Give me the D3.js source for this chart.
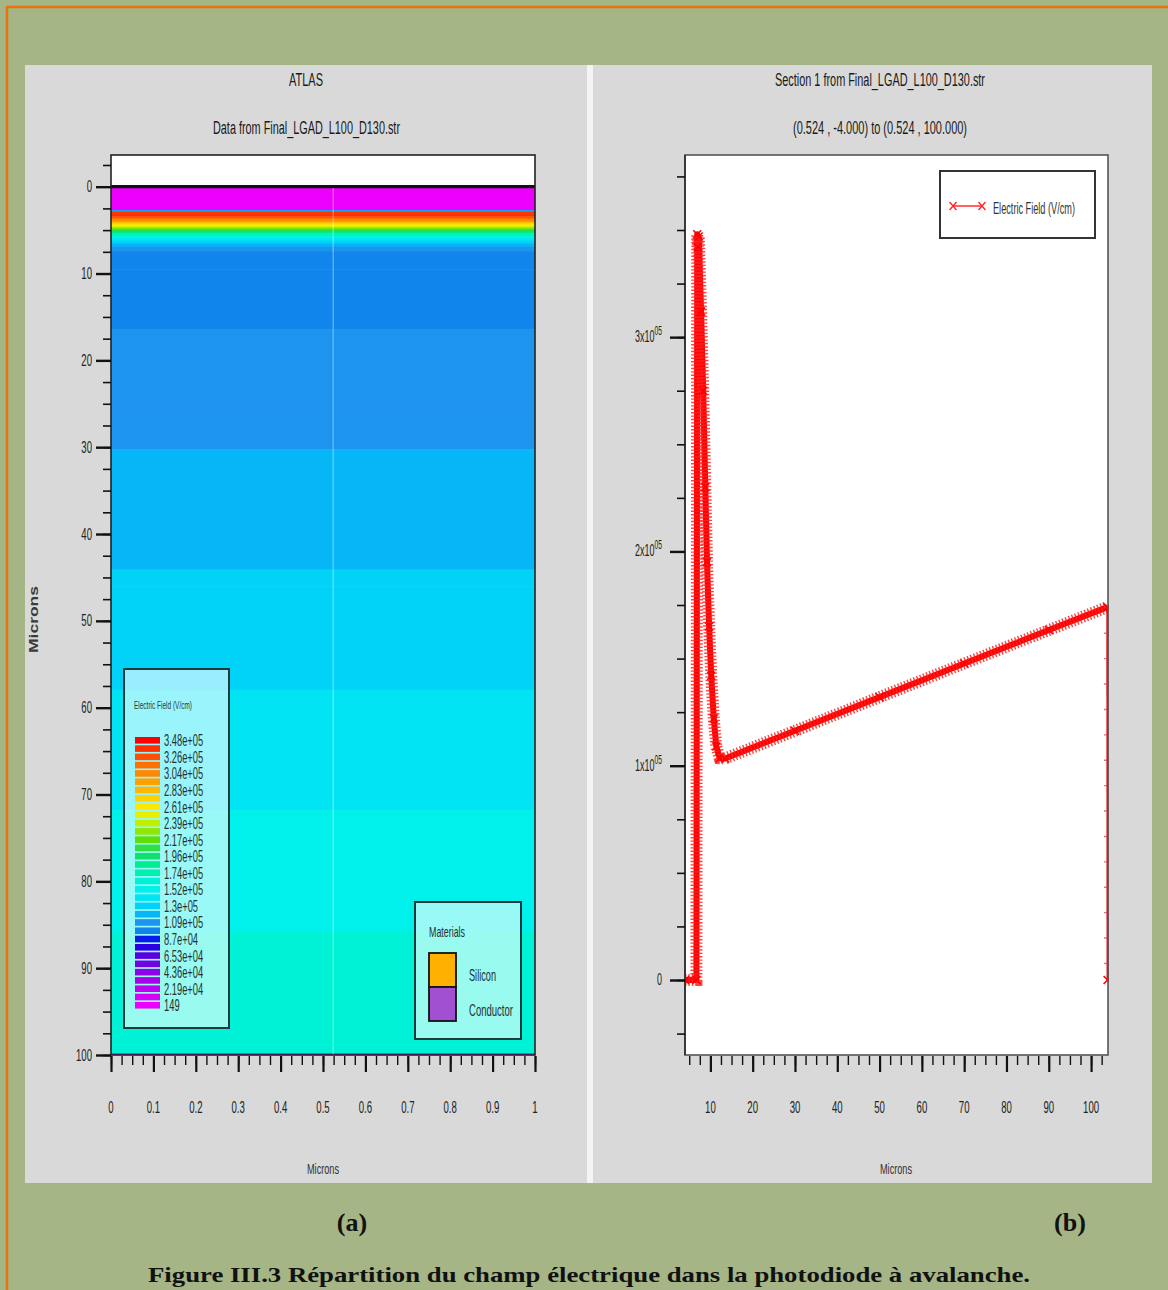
<!DOCTYPE html>
<html>
<head>
<meta charset="utf-8">
<script src="https://cdn.jsdelivr.net/npm/d3@7"></script>
<style>
  html, body { margin: 0; padding: 0; background: #a5b585; }
  svg { display: block; }
</style>
</head>
<body>
<svg id="fig" width="1168" height="1290"></svg>
<script>
// ---------------------------------------------------------------
// Electric field along the cutline x = 0.524 µm, from y = -4 to 100 µm.
// Distance is measured along the cutline (so depth = distance - 4).
// ---------------------------------------------------------------
const cutStartY = -4;
const sectionDistance = [4.0, 6.7, 6.9, 7.05, 7.25, 7.8, 8.3, 8.8, 9.2, 9.7, 10.2, 10.8, 11.4, 12.2, 13.5, 30, 50, 70, 90, 103.85, 103.9];
const electricField   = [0, 0, 348000, 342000, 347000, 312000, 275000, 230000, 195000, 165000, 142000, 122000, 109000, 103500, 103400, 116300, 132000, 147700, 163300, 174000, 0];

// Contour levels of the field map (V/cm), lowest first
const contourLevels = [149, 11011, 21873, 32735, 43597, 54459, 65321, 76183, 87045, 97907,
  108769, 119631, 130493, 141355, 152217, 163079, 173941, 184803, 195665, 206527,
  217389, 228251, 239113, 249975, 260837, 271699, 282561, 293423, 304285, 315147,
  326009, 336871, 347733];
const levelColors = ['#ee00ff', '#d800f8', '#c000f0', '#a800ec', '#9000e8', '#7400e4', '#5800e0', '#2c00e0',
  '#0a1cec', '#1086ec', '#1c94f0', '#06b6f6', '#00d2f8', '#00e4f4', '#00f0ec', '#00f2d6',
  '#00f0b0', '#00ec90', '#10e070', '#30e040', '#60e000', '#90e800', '#c0f000', '#e8f000',
  '#ffe800', '#ffd000', '#ffb800', '#ffa000', '#ff8800', '#ff7000', '#ff5000', '#ff3000', '#ff0000'];
// Legend text for every second level, lowest first
const legendLabels = ['149', '2.19e+04', '4.36e+04', '6.53e+04', '8.7e+04', '1.09e+05', '1.3e+05', '1.52e+05',
  '1.74e+05', '1.96e+05', '2.17e+05', '2.39e+05', '2.61e+05', '2.83e+05', '3.04e+05', '3.26e+05', '3.48e+05'];

const materialNames  = ['Silicon', 'Conductor'];
const materialColors = ['#ffb000', '#a050d0'];

// Axis ticks
const mapXTicks  = [0, 0.1, 0.2, 0.3, 0.4, 0.5, 0.6, 0.7, 0.8, 0.9, 1];
const mapXLabels = ['0', '0.1', '0.2', '0.3', '0.4', '0.5', '0.6', '0.7', '0.8', '0.9', '1'];
const mapYTicks  = [0, 10, 20, 30, 40, 50, 60, 70, 80, 90, 100];
const cutXTicks  = [10, 20, 30, 40, 50, 60, 70, 80, 90, 100];
const cutYTicks  = [0, 100000, 200000, 300000];
const cutYMant   = ['0', '1x10', '2x10', '3x10'];
const cutYExp    = ['', '05', '05', '05'];

const SANS = "'Liberation Sans', Arial, Helvetica, sans-serif";
const SERIF = "'Liberation Serif', 'Times New Roman', Times, serif";
const svg = d3.select('#fig');

// ---------- helpers ----------
function ntext(parent, x, y, str, size, anchor, sx, fill) {
  return parent.append('text')
    .attr('transform', `translate(${x},${y}) scale(${sx},1)`)
    .attr('text-anchor', anchor).attr('font-size', size)
    .attr('font-family', SANS).attr('fill', fill).text(str);
}
function fitText(parent, x, y, str, size, len, fill, weight) {
  return parent.append('text').attr('x', x).attr('y', y)
    .attr('font-size', size).attr('font-family', SANS)
    .attr('textLength', len).attr('lengthAdjust', 'spacingAndGlyphs')
    .attr('font-weight', weight || 'normal')
    .attr('fill', fill).text(str);
}
function ticks(parent, axis, tr) {
  const g = parent.append('g').attr('transform', tr).call(axis);
  g.select('.domain').remove();
  return g;
}

// ---------- page background ----------
svg.append('rect').attr('width', 1168).attr('height', 1290).attr('fill', '#a5b585');
svg.append('path').attr('d', 'M7,1290V7H1168').attr('fill', 'none')
  .attr('stroke', '#e8740c').attr('stroke-width', 2.5);

// panels
svg.append('rect').attr('x', 25).attr('y', 65).attr('width', 562).attr('height', 1118).attr('fill', '#d9d9d9');
svg.append('rect').attr('x', 587).attr('y', 65).attr('width', 6).attr('height', 1118).attr('fill', '#f4f4f4');
svg.append('rect').attr('x', 593).attr('y', 65).attr('width', 559).attr('height', 1118).attr('fill', '#d9d9d9');

// =============== (a) field map ===============
const xMap = d3.scaleLinear().domain([0, 1]).range([111, 535]);
const yMap = d3.scaleLinear().domain([-3.65, 100]).range([155, 1055]);
const colorOf = d3.scaleThreshold().domain(contourLevels.slice(1)).range(levelColors);

fitText(svg, 289, 86, 'ATLAS', 18, 34, '#1a1a1a');
fitText(svg, 213, 134, 'Data from Final_LGAD_L100_D130.str', 18, 187, '#1a1a1a');

svg.append('rect').attr('x', 111).attr('y', 155).attr('width', 424).attr('height', 900).attr('fill', '#ffffff');

// split the profile into constant-colour bands at each contour level
function contourBands(dist, field, levels) {
  const out = [];
  for (let i = 0; i < dist.length - 1; i++) {
    const d0 = dist[i], d1 = dist[i + 1], e0 = field[i], e1 = field[i + 1];
    if (d1 <= d0) continue;
    const cuts = [d0, d1];
    levels.forEach(v => { if ((v - e0) * (v - e1) < 0) cuts.push(d0 + (v - e0) / (e1 - e0) * (d1 - d0)); });
    cuts.sort((a, b) => a - b);
    for (let j = 0; j < cuts.length - 1; j++) {
      const a = cuts[j], b = cuts[j + 1];
      if (b <= a) continue;
      const m = (a + b) / 2;
      out.push({ from: a, to: b, value: e0 + (m - d0) / (d1 - d0) * (e1 - e0) });
    }
  }
  return out;
}
const bands = contourBands(sectionDistance, electricField, contourLevels.slice(1));
svg.append('g').selectAll('rect').data(bands).join('rect')
  .attr('x', xMap(0)).attr('width', xMap(1) - xMap(0))
  .attr('y', d => yMap(d.from + cutStartY))
  .attr('height', d => Math.max(0, yMap(d.to + cutStartY) - yMap(d.from + cutStartY)) + 0.5)
  .attr('fill', d => colorOf(d.value));

// cutline and the surface contact
svg.append('line').attr('x1', xMap(0.524)).attr('x2', xMap(0.524)).attr('y1', 155).attr('y2', 1055)
  .attr('stroke', '#ffffff').attr('stroke-opacity', 0.4).attr('stroke-width', 1.2);
svg.append('line').attr('x1', xMap(0)).attr('x2', xMap(1)).attr('y1', yMap(0)).attr('y2', yMap(0))
  .attr('stroke', '#111').attr('stroke-width', 3.2);

// colour legend
const lg = svg.append('g');
lg.append('rect').attr('x', 124).attr('y', 669).attr('width', 105).attr('height', 359)
  .attr('fill', '#ffffff').attr('fill-opacity', 0.6).attr('stroke', '#1c3a3a').attr('stroke-width', 2);
fitText(lg, 134, 709, 'Electric Field (V/cm)', 10, 58, '#2a3a3a');
const barPitch = 8.28, barTop = 737;
lg.selectAll('rect.bar').data(levelColors).join('rect').attr('class', 'bar')
  .attr('x', 135).attr('width', 25)
  .attr('y', (c, k) => barTop + (contourLevels.length - 1 - k) * barPitch)
  .attr('height', 6.6).attr('fill', c => c);
legendLabels.forEach((s, j) => {
  const k = j * 2;
  const cy = barTop + (contourLevels.length - 1 - k) * barPitch + 3.3;
  ntext(lg, 164, cy + 6, s, 17, 'start', 0.55, '#243232');
});

// materials legend
const mg = svg.append('g');
mg.append('rect').attr('x', 415).attr('y', 902).attr('width', 106).attr('height', 137)
  .attr('fill', '#ffffff').attr('fill-opacity', 0.6).attr('stroke', '#1c3a3a').attr('stroke-width', 2);
fitText(mg, 429, 937, 'Materials', 15, 36, '#243232');
materialNames.forEach((n, i) => {
  mg.append('rect').attr('x', 429).attr('y', 953 + i * 34).attr('width', 27).attr('height', 34)
    .attr('fill', materialColors[i]).attr('stroke', '#111').attr('stroke-width', 1.8);
  fitText(mg, 469, 981 + i * 35, n, 17, n === 'Silicon' ? 27 : 44, '#243232');
});

// frame and axes
svg.append('rect').attr('x', 111).attr('y', 155).attr('width', 424).attr('height', 900)
  .attr('fill', 'none').attr('stroke', '#222').attr('stroke-width', 1.6);

const tickStyle = g => g.selectAll('line').attr('stroke', '#111');
tickStyle(ticks(svg, d3.axisLeft(yMap).tickValues(d3.range(-2.5, 100.01, 2.5)).tickSize(8).tickFormat(''), 'translate(111,0)')
  .attr('stroke-width', 1.6));
tickStyle(ticks(svg, d3.axisLeft(yMap).tickValues(mapYTicks).tickSize(15).tickFormat(''), 'translate(111,0)')
  .attr('stroke-width', 2.4));
tickStyle(ticks(svg, d3.axisBottom(xMap).tickValues(d3.range(0, 1.0001, 0.025)).tickSize(9).tickFormat(''), 'translate(0,1056)')
  .attr('stroke-width', 1.4));
tickStyle(ticks(svg, d3.axisBottom(xMap).tickValues(mapXTicks).tickSize(16).tickFormat(''), 'translate(0,1056)')
  .attr('stroke-width', 2.2));
svg.selectAll('.tick line').attr('stroke-linecap', 'butt');

mapYTicks.forEach(v => ntext(svg, 92, yMap(v) + 5.5, String(v), 16, 'end', 0.6, '#222'));
mapXTicks.forEach((v, i) => ntext(svg, xMap(v), 1113, mapXLabels[i], 16, 'middle', 0.6, '#222'));
fitText(svg, 307, 1174, 'Microns', 15, 32, '#333');
svg.append('text').attr('transform', 'translate(38,653) rotate(-90)')
  .attr('font-size', 12).attr('font-family', SANS).attr('font-weight', 'bold')
  .attr('textLength', 67).attr('lengthAdjust', 'spacingAndGlyphs')
  .attr('fill', '#3a3a3a').text('Microns');

// =============== (b) field along the cutline ===============
const xCut = d3.scaleLinear().domain([4, 104]).range([685, 1108]);
const yCut = d3.scaleLinear().domain([-35000, 385000]).range([1055, 155]);

fitText(svg, 775, 86, 'Section 1 from Final_LGAD_L100_D130.str', 18, 210, '#1a1a1a');
fitText(svg, 793, 134, '(0.524 , -4.000) to (0.524 , 100.000)', 18, 174, '#1a1a1a');

svg.append('rect').attr('x', 685).attr('y', 155).attr('width', 423).attr('height', 900).attr('fill', '#ffffff');
svg.append('clipPath').attr('id', 'cutclip').append('rect')
  .attr('x', 685).attr('y', 155).attr('width', 424).attr('height', 900);

const pts = sectionDistance.map((d, i) => [d, electricField[i]]);
const lineGen = d3.line().x(p => xCut(p[0])).y(p => yCut(p[1]));
const cg = svg.append('g').attr('clip-path', 'url(#cutclip)');
const body = pts.slice(0, pts.length - 1);
const drop = pts.slice(pts.length - 2);

// dense mesh markers give the curve a thick hatched look
cg.append('path').attr('d', lineGen(body)).attr('fill', 'none')
  .attr('stroke', '#ff0000').attr('stroke-width', 6).attr('stroke-linejoin', 'round');
cg.append('path').attr('d', lineGen(body)).attr('fill', 'none')
  .attr('stroke', '#ff2020').attr('stroke-width', 12).attr('stroke-opacity', 0.85)
  .attr('stroke-dasharray', '1.4 2.0');
cg.append('path').attr('d', lineGen(drop)).attr('fill', 'none')
  .attr('stroke', '#e00000').attr('stroke-width', 2);
cg.append('path').attr('d', lineGen(drop)).attr('fill', 'none')
  .attr('stroke', '#d04060').attr('stroke-width', 7).attr('stroke-opacity', 0.75)
  .attr('stroke-dasharray', '1.4 24');
cg.selectAll('path.mk').data(pts).join('path').attr('class', 'mk')
  .attr('transform', p => `translate(${xCut(p[0])},${yCut(p[1])})`)
  .attr('d', 'M-4,-4L4,4M-4,4L4,-4')
  .attr('stroke', '#ff0000').attr('stroke-width', 1.5);

// legend
const rl = svg.append('g');
rl.append('rect').attr('x', 940).attr('y', 171).attr('width', 155).attr('height', 67)
  .attr('fill', '#ffffff').attr('stroke', '#333').attr('stroke-width', 2);
rl.append('line').attr('x1', 953).attr('x2', 982).attr('y1', 206).attr('y2', 206)
  .attr('stroke', '#ff2020').attr('stroke-width', 1.4);
[953, 982].forEach(x => rl.append('path').attr('transform', `translate(${x},206)`)
  .attr('d', 'M-3.5,-4L3.5,4M-3.5,4L3.5,-4').attr('stroke', '#ff2020').attr('stroke-width', 1.3));
fitText(rl, 993, 214, 'Electric Field (V/cm)', 16, 82, '#333');

// frame and axes
svg.append('rect').attr('x', 685).attr('y', 155).attr('width', 423).attr('height', 900)
  .attr('fill', 'none').attr('stroke', '#555').attr('stroke-width', 1.6);
svg.append('line').attr('x1', 685).attr('x2', 685).attr('y1', 155).attr('y2', 1055)
  .attr('stroke', '#333').attr('stroke-width', 1.8);

tickStyle(ticks(svg, d3.axisLeft(yCut).tickValues(d3.range(-25000, 375001, 25000)).tickSize(8).tickFormat(''), 'translate(685,0)')
  .attr('stroke-width', 1.6));
tickStyle(ticks(svg, d3.axisLeft(yCut).tickValues(cutYTicks).tickSize(15).tickFormat(''), 'translate(685,0)')
  .attr('stroke-width', 2.4));
tickStyle(ticks(svg, d3.axisBottom(xCut).tickValues(d3.range(5, 103, 2.5)).tickSize(9).tickFormat(''), 'translate(0,1056)')
  .attr('stroke-width', 1.4));
tickStyle(ticks(svg, d3.axisBottom(xCut).tickValues(cutXTicks).tickSize(16).tickFormat(''), 'translate(0,1056)')
  .attr('stroke-width', 2.2));
svg.selectAll('.tick line').attr('stroke-linecap', 'butt');

cutXTicks.forEach(v => ntext(svg, xCut(v), 1113, String(v), 16, 'middle', 0.6, '#222'));
cutYTicks.forEach((v, i) => {
  const t = ntext(svg, 662, yCut(v) + 5, cutYMant[i], 16, 'end', 0.56, '#222');
  if (cutYExp[i]) t.append('tspan').attr('dy', -7).attr('font-size', 12).text(cutYExp[i]);
});
fitText(svg, 880, 1174, 'Microns', 15, 32, '#333');

// =============== captions ===============
svg.append('text').attr('x', 352).attr('y', 1231).attr('text-anchor', 'middle')
  .attr('font-family', SERIF).attr('font-weight', 'bold').attr('font-size', 26).attr('fill', '#111').text('(a)');
svg.append('text').attr('x', 1070).attr('y', 1231).attr('text-anchor', 'middle')
  .attr('font-family', SERIF).attr('font-weight', 'bold').attr('font-size', 26).attr('fill', '#111').text('(b)');
svg.append('text').attr('x', 148).attr('y', 1282)
  .attr('font-family', SERIF).attr('font-weight', 'bold').attr('font-size', 22)
  .attr('textLength', 882).attr('lengthAdjust', 'spacingAndGlyphs')
  .attr('fill', '#111').text('Figure III.3 Répartition du champ électrique dans la photodiode à avalanche.');
</script>
</body>
</html>
